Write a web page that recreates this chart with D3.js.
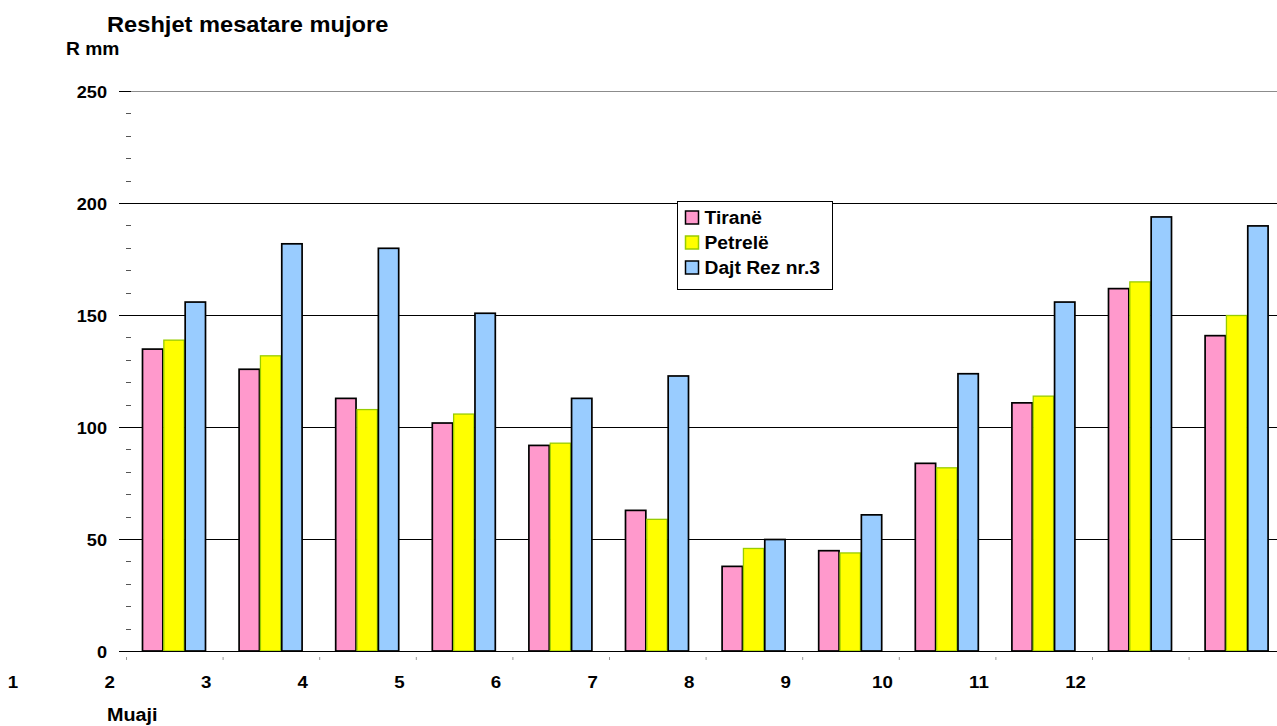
<!DOCTYPE html>
<html>
<head>
<meta charset="utf-8">
<script src="https://cdn.jsdelivr.net/npm/d3@7"></script>
<style>
  body { margin: 0; background: #fff; }
  svg { display: block; font-family: "Liberation Sans", Arial, sans-serif; font-weight: bold; }
</style>
</head>
<body>
<svg id="chart" width="1277" height="726"></svg>
<script>
// Monthly mean precipitation (mm) for three stations
const months = ["1", "2", "3", "4", "5", "6", "7", "8", "9", "10", "11", "12"];
const seriesNames = ["Tiranë", "Petrelë", "Dajt Rez nr.3"];
const tirane  = [135, 126, 113, 102, 92, 63, 38, 45, 84, 111, 162, 141];
const petrele = [139, 132, 108, 106, 93, 59, 46, 44, 82, 114, 165, 150];
const dajt    = [156, 182, 180, 151, 113, 123, 50, 61, 124, 156, 194, 190];
const yTicks  = [0, 50, 100, 150, 200, 250];
const colors  = ["#ff99cc", "#ffff00", "#99ccff"];
const strokes = ["#000000", "#99cc00", "#000000"];

const series = [tirane, petrele, dajt];

const svg = d3.select("#chart");
const step = 96.6;
const plotLeft = 126, plotRight = plotLeft + 12 * step, plotTop = 91, plotBottom = 651;

const x = d3.scaleBand().domain(months).range([plotLeft, plotRight]).paddingInner(0).paddingOuter(0);
const xs = d3.scaleBand().domain(d3.range(3)).range([16, 80]).padding(0);
const y = d3.scaleLinear().domain([0, 250]).range([plotBottom, plotTop]);

// month labels along the bottom
const xLabel = d3.scalePoint().domain(months).range([13, 13 + 11 * step]);

// text in this chart is slightly widened
function widen(sel, f = 1.1) {
  sel.each(function () {
    const w = this.getComputedTextLength();
    d3.select(this).attr("textLength", w * f).attr("lengthAdjust", "spacingAndGlyphs");
  });
}

// gridlines
svg.append("g").selectAll("line").data(yTicks.filter(d => d > 0)).join("line")
  .attr("x1", 119).attr("x2", 1277)
  .attr("y1", d => Math.round(y(d)) + 0.5).attr("y2", d => Math.round(y(d)) + 0.5)
  .attr("stroke", d => d === 250 ? "#8c8c8c" : "#000").attr("stroke-width", 1);
svg.append("line").attr("x1", 119).attr("x2", 131)
  .attr("y1", Math.round(y(250)) + 0.5).attr("y2", Math.round(y(250)) + 0.5).attr("stroke", "#000");

// minor ticks
const minor = d3.range(0, 251, 10).filter(d => d % 50 !== 0);
svg.append("g").selectAll("line").data(minor).join("line")
  .attr("x1", 126).attr("x2", 131)
  .attr("y1", d => Math.round(y(d)) + 0.5).attr("y2", d => Math.round(y(d)) + 0.5)
  .attr("stroke", "#555").attr("stroke-width", 1);

// y tick labels
svg.append("g").selectAll("text").data(yTicks).join("text")
  .attr("x", 107).attr("y", d => y(d) + 7)
  .attr("text-anchor", "end").attr("font-size", 16.5).text(d => d)
  .call(widen);

// bars
months.forEach((m, i) => {
  const g = svg.append("g").attr("transform", `translate(${x(m)},0)`);
  series.forEach((s, k) => {
    g.append("rect")
      .attr("x", xs(k) + 0.5).attr("width", xs.bandwidth() - 1)
      .attr("y", y(s[i]) + 0.5).attr("height", y(0) - y(s[i]) - 0.5)
      .attr("fill", colors[k]).attr("stroke", strokes[k]).attr("stroke-width", k === 1 ? 1.3 : 1.7);
  });
});

// baseline
svg.append("line").attr("x1", 119).attr("x2", 1277)
  .attr("y1", Math.round(y(0)) + 0.5).attr("y2", Math.round(y(0)) + 0.5).attr("stroke", "#000");

// small ticks under the baseline
svg.append("g").selectAll("line").data(months).join("line")
  .attr("x1", d => x(d) + 0.5).attr("x2", d => x(d) + 0.5)
  .attr("y1", 657).attr("y2", 660).attr("stroke", "#999");

// month labels
svg.append("g").selectAll("text").data(months).join("text")
  .attr("x", d => xLabel(d)).attr("y", 688)
  .attr("text-anchor", "middle").attr("font-size", 17).text(d => d)
  .call(widen);

// titles
svg.append("text").attr("x", 107).attr("y", 32).attr("font-size", 21.5)
  .text("Reshjet mesatare mujore").call(widen);
svg.append("text").attr("x", 66).attr("y", 55).attr("font-size", 17.5)
  .text("R mm").call(widen);
svg.append("text").attr("x", 107).attr("y", 721).attr("font-size", 18)
  .text("Muaji").call(widen);

// legend
const lg = svg.append("g").attr("transform", "translate(677.5,201.5)");
lg.append("rect").attr("width", 155).attr("height", 88).attr("fill", "#fff").attr("stroke", "#000");
seriesNames.forEach((n, k) => {
  const cy = 16 + k * 25;
  lg.append("rect").attr("x", 8).attr("y", cy - 6.5).attr("width", 13).attr("height", 13)
    .attr("fill", colors[k]).attr("stroke", k === 1 ? "#99cc00" : "#000").attr("stroke-width", 1.5);
  lg.append("text").attr("x", 27).attr("y", cy + 6.5).attr("font-size", 17.5).text(n).call(widen);
});
</script>
</body>
</html>
